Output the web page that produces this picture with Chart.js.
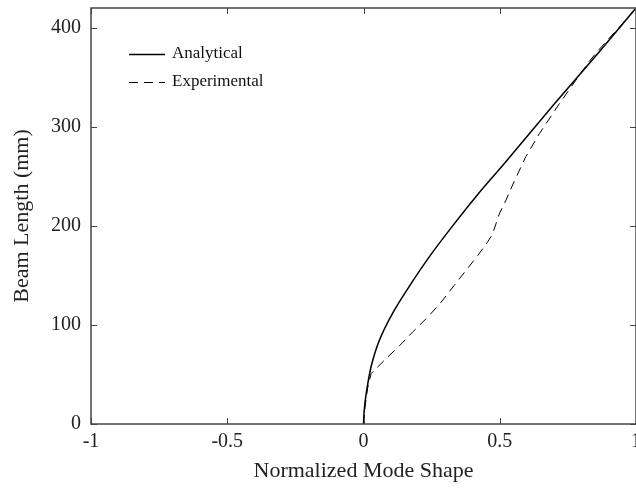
<!DOCTYPE html>
<html>
<head>
<meta charset="utf-8">
<script src="https://cdn.jsdelivr.net/npm/chart.js@4.4.1/dist/chart.umd.min.js"></script>
<style>
html,body{margin:0;padding:0;background:#fff;}
#wrap{width:636px;height:492px;position:relative;}
</style>
</head>
<body>
<div id="wrap"><canvas id="c" width="636" height="492"></canvas></div>
<script>
const seriesNames = ["Analytical", "Experimental"];
// Analytical mode shape
const analyticalX = [0, 0.003, 0.01, 0.028, 0.059, 0.107, 0.168, 0.242, 0.33, 0.42, 0.52, 0.7, 0.86, 1.0];
const analyticalY = [0, 15, 31, 58, 85, 112, 139, 169, 201, 232, 264, 323, 374, 420];
// Experimental mode shape
const experimentalX = [0, 0.006, 0.015, 0.028, 0.083, 0.132, 0.181, 0.236, 0.285, 0.333, 0.376, 0.419, 0.456, 0.474, 0.486, 0.498, 0.523, 0.553, 0.596, 0.645, 0.718, 0.779, 0.828, 0.858, 0.89, 0.94, 1.0];
const experimentalY = [0, 18, 36, 51, 66, 79, 93, 108, 123, 140, 155, 170, 184, 192, 202, 212, 226, 245, 270, 293, 323, 347, 366, 376, 386, 401, 420];
const xTicks = [-1, -0.5, 0, 0.5, 1];
const xTickLabels = ["-1", "-0.5", "0", "0.5", "1"];
const yTicks = [0, 100, 200, 300, 400];
const yTickLabels = ["0", "100", "200", "300", "400"];
const xTitle = "Normalized Mode Shape";
const yTitle = "Beam Length (mm)";

const toPts = (xs, ys) => xs.map((x, i) => ({x: x, y: ys[i]}));
const FONT = "'Liberation Serif', 'Times New Roman', serif";

const framePlugin = {
  id: 'frame',
  afterDatasetsDraw(chart) {
    const ctx = chart.ctx;
    const a = chart.chartArea;
    const xs = chart.scales.x, ys = chart.scales.y;
    ctx.save();
    ctx.strokeStyle = '#444';
    ctx.lineWidth = 1.5;
    ctx.strokeRect(a.left, a.top, a.right - a.left, a.bottom - a.top);
    ctx.lineWidth = 1;
    const L = 6;
    ctx.beginPath();
    xs.ticks.forEach(t => {
      const px = Math.round(xs.getPixelForValue(t.value)) + 0.5;
      ctx.moveTo(px, a.bottom); ctx.lineTo(px, a.bottom - L);
      ctx.moveTo(px, a.top); ctx.lineTo(px, a.top + L);
    });
    ys.ticks.forEach(t => {
      const py = Math.round(ys.getPixelForValue(t.value)) + 0.5;
      ctx.moveTo(a.left, py); ctx.lineTo(a.left + L, py);
      ctx.moveTo(a.right, py); ctx.lineTo(a.right - L, py);
    });
    ctx.stroke();
    // legend
    const lx = 129, lw = 36;
    const rows = [54, 82];
    ctx.font = "17px " + FONT;
    ctx.fillStyle = '#111';
    ctx.textBaseline = 'middle';
    chart.data.datasets.forEach((ds, i) => {
      const y = rows[i] + 0.5;
      ctx.strokeStyle = ds.borderColor;
      ctx.lineWidth = ds.borderWidth;
      ctx.setLineDash(ds.borderDash || []);
      ctx.beginPath();
      ctx.moveTo(lx, y); ctx.lineTo(lx + lw, y);
      ctx.stroke();
      ctx.setLineDash([]);
      ctx.fillText(ds.label, lx + lw + 7, rows[i]);
    });
    ctx.restore();
  }
};

new Chart(document.getElementById('c'), {
  type: 'scatter',
  data: {
    datasets: [
      {label: seriesNames[0], data: toPts(analyticalX, analyticalY), showLine: true, borderColor: '#000', borderWidth: 1.5, pointRadius: 0, tension: 0.3, fill: false},
      {label: seriesNames[1], data: toPts(experimentalX, experimentalY), showLine: true, borderColor: '#000', borderWidth: 1, borderDash: [9, 6], pointRadius: 0, tension: 0, fill: false}
    ]
  },
  options: {
    responsive: false,
    animation: false,
    layout: {padding: {top: 8, right: 0, left: 0, bottom: 0}},
    plugins: {legend: {display: false}, tooltip: {enabled: false}},
    scales: {
      x: {
        type: 'linear', min: -1, max: 1,
        afterBuildTicks(s) { s.ticks = xTicks.map(v => ({value: v})); },
        afterFit(s) { s.height = 68; s.paddingLeft = 0; s.paddingRight = 0; },
        grid: {display: false, drawTicks: false},
        border: {display: false},
        ticks: {color: '#222', padding: 6, font: {family: FONT, size: 20}, maxRotation: 0, autoSkip: false,
          callback: (v) => xTickLabels[xTicks.indexOf(v)]},
        title: {display: true, text: xTitle, color: '#222', font: {family: FONT, size: 22}, padding: {top: 0, bottom: 8}}
      },
      y: {
        type: 'linear', min: 0, max: 420,
        afterBuildTicks(s) { s.ticks = yTicks.map(v => ({value: v})); },
        afterFit(s) { s.width = 91; s.paddingTop = 0; s.paddingBottom = 0; },
        grid: {display: false, drawTicks: false},
        border: {display: false},
        ticks: {color: '#222', padding: 10, font: {family: FONT, size: 20}, autoSkip: false,
          callback: (v) => yTickLabels[yTicks.indexOf(v)]},
        title: {display: true, text: yTitle, color: '#222', font: {family: FONT, size: 22}, padding: {top: 9, bottom: 0}}
      }
    }
  },
  plugins: [framePlugin]
});
</script>
</body>
</html>
